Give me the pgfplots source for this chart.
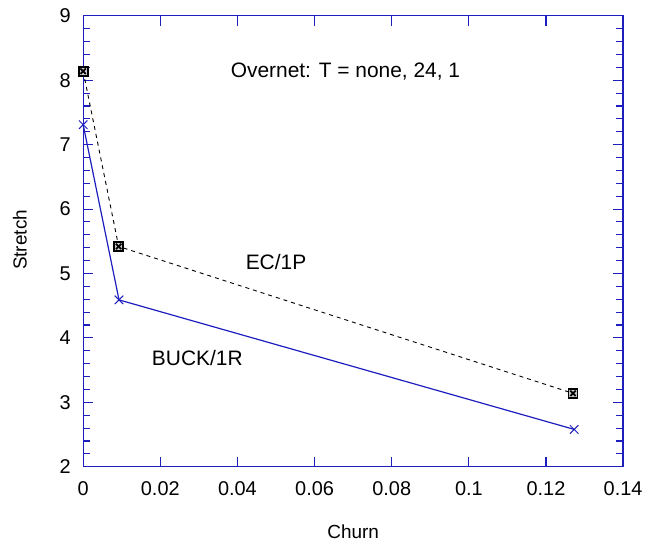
\documentclass[border=0pt]{standalone}
\usepackage{pgfplots}
\pgfplotsset{compat=1.18}
\usepackage{fontspec}
\setmainfont{Liberation Sans}
\definecolor{axblue}{RGB}{30,30,190}
\pgfdeclareplotmark{boxx}{%
  \pgfpathrectangle{\pgfqpoint{-\pgfplotmarksize}{-\pgfplotmarksize}}{\pgfqpoint{2\pgfplotmarksize}{2\pgfplotmarksize}}%
  \pgfusepathqfillstroke
  \pgfpathmoveto{\pgfqpoint{-0.6\pgfplotmarksize}{-0.6\pgfplotmarksize}}%
  \pgfpathlineto{\pgfqpoint{0.6\pgfplotmarksize}{0.6\pgfplotmarksize}}%
  \pgfpathmoveto{\pgfqpoint{-0.6\pgfplotmarksize}{0.6\pgfplotmarksize}}%
  \pgfpathlineto{\pgfqpoint{0.6\pgfplotmarksize}{-0.6\pgfplotmarksize}}%
  \pgfusepathqstroke
}
\begin{document}
\begin{tikzpicture}
\begin{axis}[
    scale only axis,
    width=540bp,
    height=451bp,
    xmin=0, xmax=0.14,
    ymin=2, ymax=9,
    xtick={0,0.02,0.04,0.06,0.08,0.1,0.12,0.14},
    xticklabels={0,0.02,0.04,0.06,0.08,0.1,0.12,0.14},
    ytick={2,3,4,5,6,7,8,9},
    minor y tick num=4,
    /pgf/number format/assume math mode=true,
    axis line style={axblue, line width=1.3bp},
    tick style={axblue, line width=1.1bp},
    major tick length=10bp,
    minor tick length=7bp,
    tick label style={font=\fontsize{20}{23}\selectfont},
    xticklabel style={yshift=-11bp},
    yticklabel style={xshift=-9bp},
    label style={font=\fontsize{19}{22}\selectfont},
    xlabel={Churn},
    ylabel={Stretch},
    xlabel style={at={(axis description cs:0.5,-0.145)}, anchor=center},
    ylabel style={at={(axis description cs:-0.117,0.503)}, anchor=center},
    clip=false,
]
\addplot[black, line width=0.9bp, dash pattern=on 4bp off 4bp,
    mark=boxx, mark size=4.5bp,
    mark options={solid, line width=1.8bp, fill=gray!40}]
    coordinates {(0,8.14) (0.0092,5.42) (0.127,3.14)};
\addplot[axblue, line width=1.2bp, mark=x, mark size=6bp,
    mark options={solid, line width=1bp}]
    coordinates {(0,7.31) (0.0093,4.59) (0.1273,2.58)};
\node[font=\fontsize{21}{24}\selectfont] at (axis cs:0.068,8.13) {Overnet: T = none, 24, 1};
\node[font=\fontsize{21}{24}\selectfont] at (axis cs:0.05,5.18) {EC/1P};
\node[font=\fontsize{21}{24}\selectfont] at (axis cs:0.0296,3.69) {BUCK/1R};
\path (rel axis cs:-0.154,-0.175) rectangle (rel axis cs:1.059,1.035);
\end{axis}
\end{tikzpicture}
\end{document}
